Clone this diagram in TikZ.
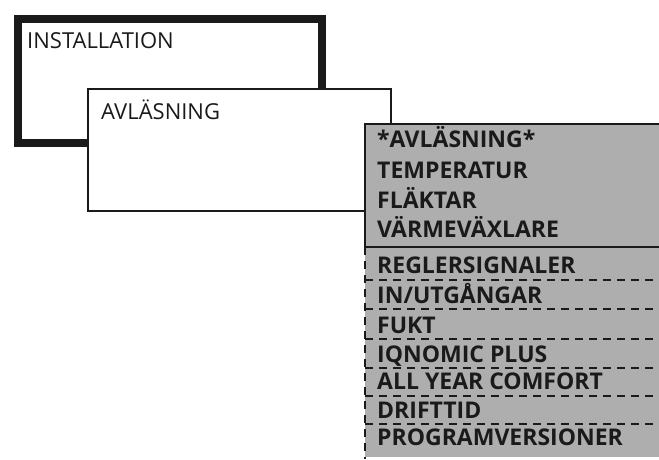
\documentclass[tikz,border=0pt]{standalone}
\usepackage{fontspec}
\setsansfont{Open Sans}
\definecolor{menugray}{HTML}{AEAEAE}
\definecolor{framegray}{HTML}{1A1A1A}

\tikzset{
  menuitem/.style={anchor=base west, inner sep=0, text=framegray,
    font=\sffamily\bfseries\fontsize{23}{26}\selectfont},
  menusep/.style={line width=2.2pt, color=framegray, dash pattern=on 8pt off 6pt}
}

\begin{document}
\begin{tikzpicture}[x=1pt, y=-1pt]
  \useasboundingbox (0,0) rectangle (659,459);

  % Outer window
  \node[draw=framegray, line width=8pt, anchor=north west, inner sep=0,
    minimum width=304pt, minimum height=124pt] (install) at (14,15) {};
  \node[anchor=base west, inner sep=0, text=framegray,
    font=\sffamily\fontsize{22}{26}\selectfont] (installtxt) at (27,48) {INSTALLATION};

  % Second window
  \node[draw=framegray, fill=white, line width=2pt, anchor=north west, inner sep=0,
    minimum width=303.5pt, minimum height=122.5pt] (readout) at (86.5,87.5) {};
  \node[anchor=base west, inner sep=0, text=framegray,
    font=\sffamily\fontsize{22}{26}\selectfont] (readouttxt) at (101,119) {AVLÄSNING};

  % Menu panel
  \fill[menugray] (365,124) rectangle (660,457);
  \draw[line width=2pt, color=framegray] (660,124) -- (365,124) -- (365,247) -- (660,247);
  \draw[menusep] (365,247) -- (365,459);
  \draw[menusep] (365,280) -- (660,280);
  \draw[menusep] (365,309) -- (660,309);
  \draw[menusep] (365,339) -- (660,339);
  \draw[menusep] (365,368) -- (660,368);
  \draw[menusep] (365,396) -- (660,396);
  \draw[menusep] (365,424) -- (660,424);

  % Menu entries
  \node[menuitem] (itemA) at (377,147) {*AVLÄSNING*};
  \node[menuitem] (itemB) at (377,178) {TEMPERATUR};
  \node[menuitem] (itemC) at (377,208) {FLÄKTAR};
  \node[menuitem] (itemD) at (377,237) {VÄRMEVÄXLARE};
  \node[menuitem] (itemE) at (377,273) {REGLERSIGNALER};
  \node[menuitem] (itemF) at (377,303) {IN/UTGÅNGAR};
  \node[menuitem] (itemG) at (377,333) {FUKT};
  \node[menuitem] (itemH) at (377,362) {IQNOMIC PLUS};
  \node[menuitem] (itemI) at (377,389) {ALL YEAR COMFORT};
  \node[menuitem] (itemJ) at (377,418) {DRIFTTID};
  \node[menuitem] (itemK) at (377,445) {PROGRAMVERSIONER};

\end{tikzpicture}
\end{document}
